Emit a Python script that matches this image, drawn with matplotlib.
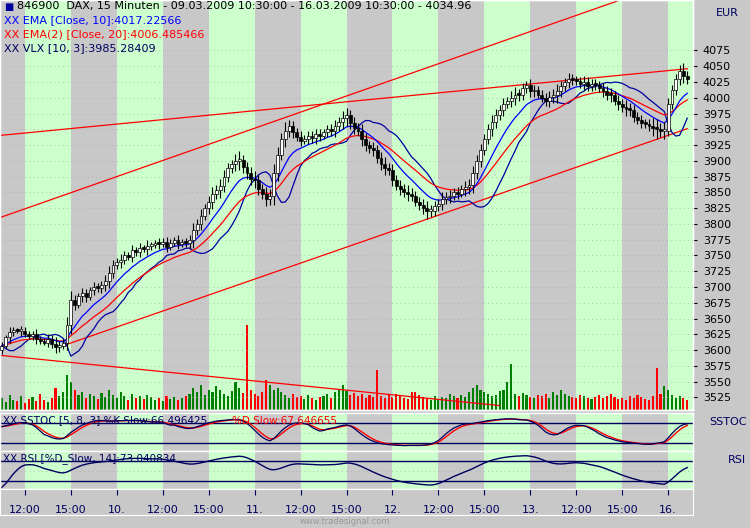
import numpy as np
import matplotlib
matplotlib.use("Agg")
import matplotlib.pyplot as plt

closes = [3607,3620,3628,3632,3630, 3631,3626,3622,3625,3618, 3615,3612,3618,3610,3605,
          3607,3612,3640, 3679,3672,3685,3690,3684,3695,3700,3698, 3703,3710,3722,3735,3740,
          3743,3750,3748,3758,3755,3762,3760,3765, 3766,3770,3768,3772,3764,3770,3775,3768,3772,3770,
          3774,3790,3800, 3813,3825,3835,3848, 3853,3860,3875,3888,3895,3900,
          3901,3890,3880,3872, 3869,3855,3848,3840, 3845,3880,3910,3935,
          3948,3955,3945,3938, 3932,3935,3940,3936,3942, 3940,3945,3950,3948,3955,3962,3968,
          3972,3960,3952, 3948,3935,3925,3920, 3917,3905,3895,3888,
          3885,3870,3860,3855,3850,3848, 3845,3835,3830,3825,3820, 3821,3828,3832,3840,3842,
          3845,3850,3848,3855,3858, 3861,3880,3900, 3917,3935,3950,3962,3972,
          3980,3990,3995,4000,4005, 4004,4015,4020,4010, 4012,4005,4000,3995,4002,
          4004,4010,4018,4025,4030,4028, 4027,4022,4025,4018,4022, 4020,4015,4010,4005,
          4004,3995,3990,3985,3982, 3980,3970,3965,3960,3958, 3956,3952,3950,3948,
          3948,3990, 4012,4030, 4043,4035,4030]
opens = [3600] + closes[:-1]
wick = [6,4,8,5,3,7,5,4,6,9,5,4,7,6,10,8,5,12,15,8,6,9,7,5,8,6,7,9,11,8,6,
        10,7,5,8,6,7,5,9,6,4,7,5,8,6,5,7,4,6,9,12,8,10,7,9,11,8,12,10,9,7,11,
        14,9,8,10,12,9,8,11,10,15,12,9,13,10,8,7,9,6,8,7,9,8,6,7,9,10,8,11,
        12,9,10,8,11,9,7,10,8,9,11,8,10,7,9,8,11,9,7,8,10,12,9,8,7,10,
        8,9,7,8,6,10,11,12,9,10,8,9,11,10,8,9,7,10,12,9,8,7,9,8,6,7,8,
        9,10,12,8,7,9,8,7,6,9,8,7,8,6,9,8,10,7,9,8,11,9,8,7,8,6,
        9,12,15,10,14,9,8,7,9,12,8]
volume = [12,8,15,10,9,14,7,11,13,9,16,10,8,12,22,14,18,35,28,20,15,18,12,16,14,11,17,13,20,15,12,
          18,14,10,16,12,14,11,15,13,10,12,9,14,11,13,10,12,14,16,22,18,25,15,20,18,24,20,16,14,19,
          28,22,17,85,20,16,14,18,30,25,20,22,18,15,12,16,13,14,11,15,12,10,13,14,16,12,18,20,
          25,19,15,17,14,16,12,15,13,40,14,12,15,13,16,14,12,11,18,18,15,13,12,10,14,11,13,12,
          16,14,12,15,13,18,22,25,20,18,16,14,15,19,20,28,46,16,14,17,15,13,12,15,14,16,12,
          18,15,20,16,14,13,12,15,14,12,11,13,15,12,14,16,13,11,12,10,14,12,15,13,11,10,
          14,42,16,24,20,15,12,14,12,10]
ticklabels = ["12:00","15:00","10.","12:00","15:00","11.","12:00","15:00","12.",
              "12:00","15:00","13.","12:00","15:00","16."]
trend_x = [[-1, 161], [-1, 179], [16, 179], [-1, 130]]
trend_y = [[3809, 4154], [3940, 4046], [3607, 3951], [3592, 3512]]

n = len(closes)
c = np.array(closes, float); o = np.array(opens, float); w = np.array(wick[:n], float)
hi = np.maximum(o, c) + w; lo = np.minimum(o, c) - w
x = np.arange(n)

def ema(v, p):
    a = 2/(p+1); out = np.empty_like(v); out[0] = v[0]
    for i in range(1, len(v)): out[i] = a*v[i] + (1-a)*out[i-1]
    return out
e10 = ema(c, 10); e20 = ema(c, 20)
vlx = ema(e10 - 1.1*(c - e10), 3)
k = np.array([(c[i]-lo[max(0,i-7):i+1].min())/(hi[max(0,i-7):i+1].max()-lo[max(0,i-7):i+1].min()+1e-9)*100 for i in range(n)])
kslow = ema(ema(k, 5), 3); dslow = ema(kslow, 3)
d = np.diff(c, prepend=c[0])
up = ema(np.maximum(d, 0), 14); dn = ema(np.maximum(-d, 0), 14)
rsi = ema(ema(100*up/(up+dn+1e-9), 5), 5)

GRAY = "#c8c8c8"; GREEN = "#ccffcc"; NAVY = "#000060"
fig = plt.figure(figsize=(7.5, 5.28), dpi=100, facecolor=GRAY)
L, R = 0.0, 0.924
axv = fig.add_axes([L, 0.2235, R, 0.7765])
ax = fig.add_axes([L, 0.2235, R, 0.7765])
ax2 = fig.add_axes([L, 0.146, R, 0.072])
ax3 = fig.add_axes([L, 0.074, R, 0.072])
xl = (-0.5, 180.5)

for a in (axv, ax2, ax3):
    a.set_facecolor(GRAY)
    for s in range(6, 181, 24):
        a.axvspan(s, s+12, color=GREEN, lw=0, zorder=0)
for a in (axv, ax, ax2, ax3):
    a.set_xlim(*xl)
    a.set_xticks([])
    for sp in a.spines.values():
        sp.set_color("white"); sp.set_linewidth(1)
ax.patch.set_visible(False)

axv.set_ylim(0, 410); axv.set_yticks([])
vcol = ["#008000" if c[i] >= o[i] else "#ff0000" for i in range(n)]
axv.bar(x, volume[:n], width=0.55, color=vcol, zorder=1)

ax.set_ylim(3505, 4155)
yt = np.arange(3525, 4076, 25)
ax.set_yticks(yt)
ax.yaxis.tick_right()
ax.tick_params(axis="y", length=3, labelsize=8, colors="black", pad=4)
for t in yt:
    ax.axhline(t, color="#aaaaaa", lw=0.6, ls=(0, (1, 4)), zorder=0.5)

for tx, ty in zip(trend_x, trend_y):
    ax.plot(tx, ty, color="red", lw=0.9, zorder=2)
ax.plot(x, vlx, color="#0000a0", lw=0.9, zorder=3)
ax.plot(x, e20, color="red", lw=0.9, zorder=3)
ax.plot(x, e10, color="blue", lw=0.9, zorder=3)
ax.vlines(x, lo, hi, color="black", lw=0.8, zorder=4)
bc = ["white" if c[i] >= o[i] else "black" for i in range(n)]
ax.bar(x, np.maximum(np.abs(c-o), 3), bottom=np.minimum(o, c), width=0.75,
       color=bc, edgecolor="black", linewidth=0.5, zorder=5)
ax.text(0.006, 0.995, "\u25A0", color="#0000a0", fontsize=7, transform=ax.transAxes, va="top")
ax.text(0.025, 0.997, "846900  DAX, 15 Minuten - 09.03.2009 10:30:00 - 16.03.2009 10:30:00 - 4034.96",
        fontsize=8, transform=ax.transAxes, va="top")
ax.text(0.006, 0.962, "XX EMA [Close, 10]:4017.22566", color="blue", fontsize=8, transform=ax.transAxes, va="top")
ax.text(0.006, 0.929, "XX EMA(2) [Close, 20]:4006.485466", color="red", fontsize=8, transform=ax.transAxes, va="top")
ax.text(0.006, 0.896, "XX VLX [10, 3]:3985.28409", color=NAVY, fontsize=8, transform=ax.transAxes, va="top")

for a in (ax2, ax3):
    a.set_ylim(-5, 110); a.set_yticks([])
    a.axhline(80, color=NAVY, lw=1); a.axhline(20, color=NAVY, lw=1)
    a.axhline(50, color="#aaaaaa", lw=0.6, ls=(0, (1, 4)))
ax2.plot(x, dslow, color="red", lw=1)
ax2.plot(x, kslow, color=NAVY, lw=0.9)
ax2.text(0.004, 0.93, "XX SSTOC [5, 8, 3] %K Slow:66.496425 ", color=NAVY, fontsize=7.5, transform=ax2.transAxes, va="top")
ax2.text(0.335, 0.93, "%D Slow:67.646655", color="red", fontsize=7.5, transform=ax2.transAxes, va="top")
ax3.plot(x, rsi, color=NAVY, lw=1)
ax3.text(0.004, 0.93, "XX RSI [%D_Slow, 14]:73.040834", color=NAVY, fontsize=7.5, transform=ax3.transAxes, va="top")

axt = fig.add_axes([L, 0.025, R, 0.049]); axt.set_facecolor(GRAY); axt.set_xlim(*xl)
axt.set_yticks([]); axt.set_ylim(0, 1)
for sp in axt.spines.values(): sp.set_color("white")
tpos = list(range(6, 175, 12))
axt.set_xticks(tpos, ticklabels)
axt.xaxis.tick_top()
axt.tick_params(axis="x", direction="in", length=4, colors=NAVY, labelsize=8, pad=-19)

fig.text(0.985, 0.985, "EUR", ha="right", va="top", fontsize=8, color=NAVY)
fig.text(0.995, 0.2, "SSTOC", ha="right", va="center", fontsize=8, color=NAVY)
fig.text(0.995, 0.128, "RSI", ha="right", va="center", fontsize=8, color=NAVY)
fig.text(0.46, 0.012, "www.tradesignal.com", ha="center", va="center", fontsize=6, color="#999999")
fig.savefig("out.png", dpi=100, facecolor=GRAY)
